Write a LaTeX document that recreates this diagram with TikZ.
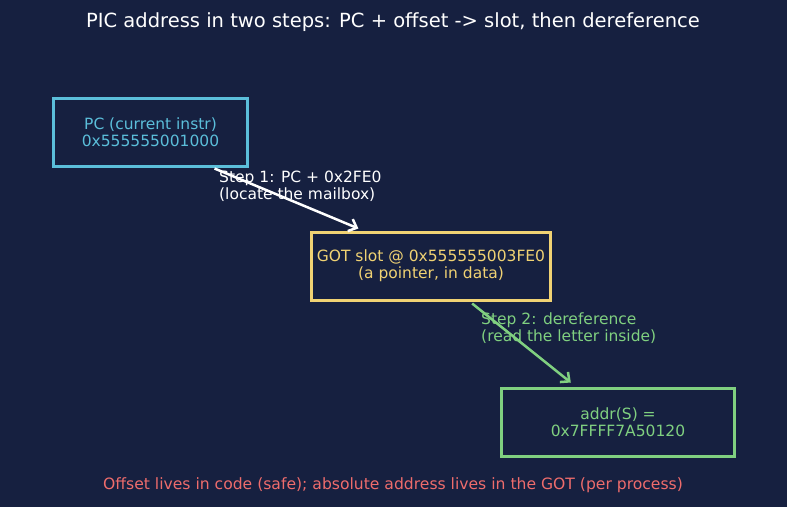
\documentclass[tikz,border=0pt]{standalone}
\usepackage{fontspec}
\setmainfont{DejaVu Sans}
\definecolor{bgnavy}{RGB}{22, 32, 64}
\definecolor{pccyan}{RGB}{91, 190, 218}
\definecolor{gotgold}{RGB}{240, 210, 115}
\definecolor{addrgreen}{RGB}{128, 208, 128}
\definecolor{notered}{RGB}{238, 108, 108}
\usetikzlibrary{arrows.meta, positioning, calc}

\begin{document}
\begin{tikzpicture}[
  x=1pt, y=-1pt,
  membox/.style={draw, line width=3pt, inner sep=0pt, minimum height=68pt, align=center,
    font=\fontsize{15.5}{17.3}\selectfont},
  steplabel/.style={anchor=west, align=left, inner sep=0pt, font=\fontsize{15.5}{17.3}\selectfont},
  hop/.style={line width=2.5pt, -{Straight Barb[length=7pt, width=13pt, line width=2.5pt]}}
]
  \fill[bgnavy] (0,0) rectangle (787,507);
  \useasboundingbox (0,0) rectangle (787,507);

  \node[white, font=\fontsize{19.5}{22}\selectfont] (title) at (393, 22)
    {PIC address in two steps: PC + offset -> slot, then dereference};

  \node[membox, pccyan, text=pccyan, minimum width=194pt] (pc) at (150.5, 132)
    {PC (current instr)\\0x555555001000};
  \node[membox, gotgold, text=gotgold, minimum width=239pt] (got) at (431, 266)
    {GOT slot @ 0x555555003FE0\\(a pointer, in data)};
  \node[membox, addrgreen, text=addrgreen, minimum width=233pt] (addr) at (618, 422)
    {addr(S) =\\0x7FFFF7A50120};

  % step 1: locate the slot
  \draw[hop, white] ($(pc.south)!0.65!(pc.south east)+(0,1)$) -- ($(got.north)!0.6!(got.north west)+(0,-2)$);
  \node[steplabel, white] (step1) at (219, 186) {Step 1: PC + 0x2FE0\\(locate the mailbox)};

  % step 2: read through the pointer
  \draw[hop, addrgreen] ($(got.south)!0.34!(got.south east)+(0,2)$) -- ($(addr.north)!0.4!(addr.north west)+(0,-4)$);
  \node[steplabel, addrgreen] (step2) at (481, 328) {Step 2: dereference\\(read the letter inside)};

  \node[notered, font=\fontsize{15.6}{17.3}\selectfont] (note) at (393, 485)
    {Offset lives in code (safe); absolute address lives in the GOT (per process)};
\end{tikzpicture}
\end{document}
